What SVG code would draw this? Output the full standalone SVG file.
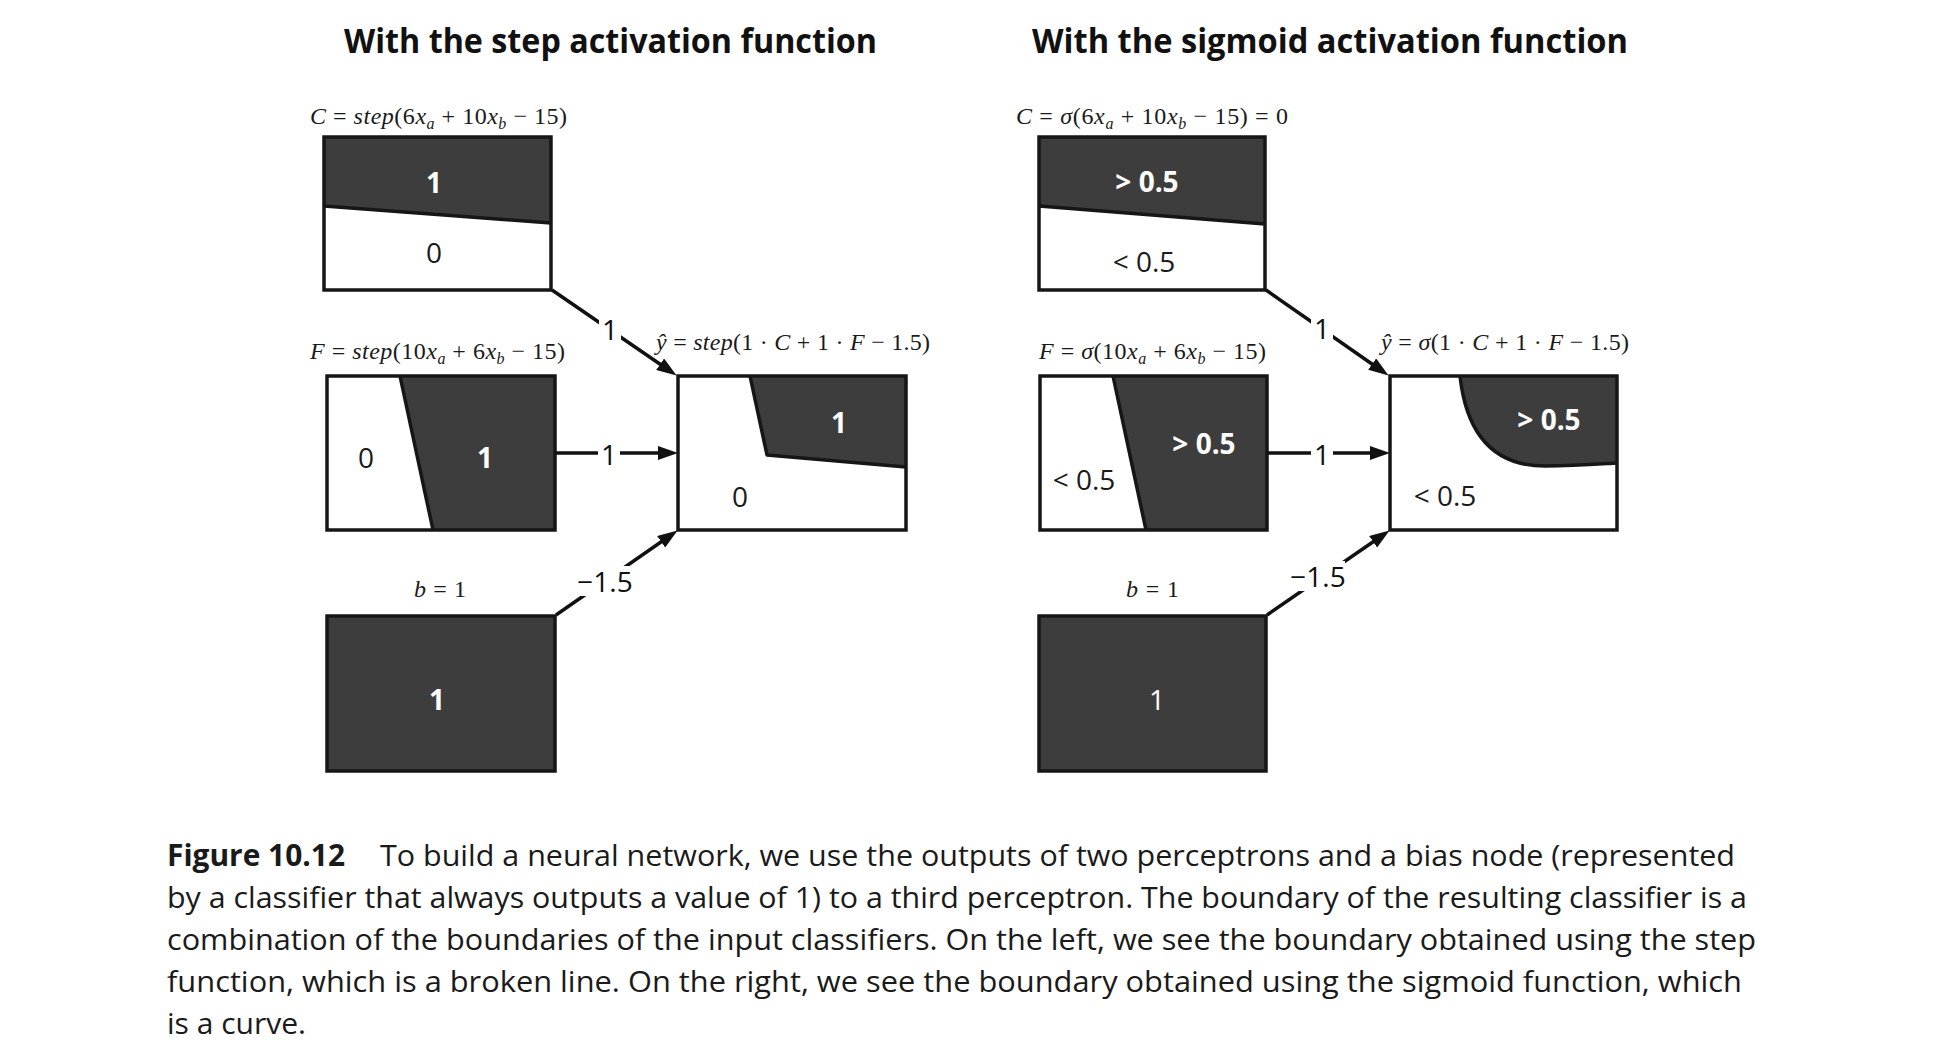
<svg xmlns="http://www.w3.org/2000/svg" width="1936" height="1054" viewBox="0 0 1936 1054">
<style>
.frame{fill:none;stroke:#161616;stroke-width:3.5}
.bg{fill:#fff}
.dark{fill:#3d3d3d}
.bnd{fill:none;stroke:#161616;stroke-width:3.5;stroke-linejoin:round}
.num{font-family:"Open Sans","Noto Sans",sans-serif;font-size:28px;text-anchor:middle}
.w{fill:#fff;font-weight:700}
.k{fill:#1a1a1a}
.eq{font-family:"Liberation Serif","Times New Roman",serif;font-size:24px;fill:#1a1a1a}
.it{font-style:italic}
.sub{font-size:16px;font-style:italic}
.title{font-family:"Open Sans","Noto Sans",sans-serif;font-size:34px;font-weight:700;fill:#111}
.cap{font-family:"Open Sans","Noto Sans",sans-serif;font-size:30px;fill:#1a1a1a}
.conn{stroke:#111;stroke-width:3.5;fill:none;marker-end:url(#ah)}
.clab{font-family:"Open Sans","Noto Sans",sans-serif;font-size:28px;fill:#111;text-anchor:middle}
</style>
<defs>
<marker id="ah" viewBox="0 0 20 14" refX="12" refY="7" markerWidth="20" markerHeight="14" markerUnits="userSpaceOnUse" orient="auto">
<path d="M0,0 L20,7 L0,14 Z" fill="#111"/>
</marker>
</defs>
<rect x="0" y="0" width="1936" height="1054" fill="#fff"/>

<text class="title" x="344" y="53" textLength="533" lengthAdjust="spacingAndGlyphs">With the step activation function</text>
<text class="title" x="1032" y="53" textLength="596" lengthAdjust="spacingAndGlyphs">With the sigmoid activation function</text>

<!-- LEFT: step -->
<g id="step-C">
<text class="eq" x="310" y="124" textLength="257" lengthAdjust="spacing"><tspan class="it">C</tspan> = <tspan class="it">step</tspan>(6<tspan class="it">x</tspan><tspan class="sub" dy="5">a</tspan><tspan dy="-5"> + 10</tspan><tspan class="it">x</tspan><tspan class="sub" dy="5">b</tspan><tspan dy="-5"> − 15)</tspan></text>
<rect class="bg" x="324" y="137" width="227" height="153"/>
<polygon class="dark" points="324,137 551,137 551,223 324,206"/>
<line class="bnd" x1="324" y1="206" x2="551" y2="223"/>
<rect class="frame" x="324" y="137" width="227" height="153"/>
<text class="num w" x="434" y="193">1</text>
<text class="num k" x="434" y="263">0</text>
</g>

<g id="step-F">
<text class="eq" x="310" y="359" textLength="255" lengthAdjust="spacing"><tspan class="it">F</tspan> = <tspan class="it">step</tspan>(10<tspan class="it">x</tspan><tspan class="sub" dy="5">a</tspan><tspan dy="-5"> + 6</tspan><tspan class="it">x</tspan><tspan class="sub" dy="5">b</tspan><tspan dy="-5"> − 15)</tspan></text>
<rect class="bg" x="327" y="376" width="228" height="154"/>
<polygon class="dark" points="400,376 555,376 555,530 433,530"/>
<line class="bnd" x1="400" y1="376" x2="433" y2="530"/>
<rect class="frame" x="327" y="376" width="228" height="154"/>
<text class="num k" x="366" y="468">0</text>
<text class="num w" x="485" y="468">1</text>
</g>

<g id="step-b">
<text class="eq" x="414" y="597" textLength="52" lengthAdjust="spacing"><tspan class="it">b</tspan> = 1</text>
<rect class="dark" x="327" y="616" width="228" height="155"/>
<rect class="frame" x="327" y="616" width="228" height="155"/>
<text class="num w" x="437" y="710">1</text>
</g>

<g id="step-yhat">
<text class="eq" x="656" y="350" textLength="274" lengthAdjust="spacing"><tspan class="it">ŷ</tspan> = <tspan class="it">step</tspan>(1 · <tspan class="it">C</tspan> + 1 · <tspan class="it">F</tspan> − 1.5)</text>
<rect class="bg" x="678" y="376" width="228" height="154"/>
<polygon class="dark" points="750,376 906,376 906,467 767,455"/>
<polyline class="bnd" points="750,376 767,455 906,467"/>
<rect class="frame" x="678" y="376" width="228" height="154"/>
<text class="num w" x="839" y="433">1</text>
<text class="num k" x="740" y="507">0</text>
</g>

<!-- RIGHT: sigmoid -->
<g id="sig-C">
<text class="eq" x="1016" y="124" textLength="272" lengthAdjust="spacing"><tspan class="it">C</tspan> = <tspan class="it">σ</tspan>(6<tspan class="it">x</tspan><tspan class="sub" dy="5">a</tspan><tspan dy="-5"> + 10</tspan><tspan class="it">x</tspan><tspan class="sub" dy="5">b</tspan><tspan dy="-5"> − 15) = 0</tspan></text>
<rect class="bg" x="1039" y="137" width="226" height="153"/>
<polygon class="dark" points="1039,137 1265,137 1265,224 1039,206"/>
<line class="bnd" x1="1039" y1="206" x2="1265" y2="224"/>
<rect class="frame" x="1039" y="137" width="226" height="153"/>
<text class="num w" x="1147" y="192">&gt; 0.5</text>
<text class="num k" x="1144" y="272">&lt; 0.5</text>
</g>

<g id="sig-F">
<text class="eq" x="1039" y="359" textLength="227" lengthAdjust="spacing"><tspan class="it">F</tspan> = <tspan class="it">σ</tspan>(10<tspan class="it">x</tspan><tspan class="sub" dy="5">a</tspan><tspan dy="-5"> + 6</tspan><tspan class="it">x</tspan><tspan class="sub" dy="5">b</tspan><tspan dy="-5"> − 15)</tspan></text>
<rect class="bg" x="1040" y="376" width="227" height="154"/>
<polygon class="dark" points="1113,376 1267,376 1267,530 1146,530"/>
<line class="bnd" x1="1113" y1="376" x2="1146" y2="530"/>
<rect class="frame" x="1040" y="376" width="227" height="154"/>
<text class="num w" x="1204" y="454">&gt; 0.5</text>
<text class="num k" x="1084" y="490">&lt; 0.5</text>
</g>

<g id="sig-b">
<text class="eq" x="1126" y="597" textLength="53" lengthAdjust="spacing"><tspan class="it">b</tspan> = 1</text>
<rect class="dark" x="1039" y="616" width="227" height="155"/>
<rect class="frame" x="1039" y="616" width="227" height="155"/>
<text class="num" x="1157" y="710" fill="#fff">1</text>
</g>

<g id="sig-yhat">
<text class="eq" x="1381" y="350" textLength="248" lengthAdjust="spacing"><tspan class="it">ŷ</tspan> = <tspan class="it">σ</tspan>(1 · <tspan class="it">C</tspan> + 1 · <tspan class="it">F</tspan> − 1.5)</text>
<rect class="bg" x="1390" y="376" width="227" height="154"/>
<path class="dark" d="M1460,376 C1466,430 1490,466 1545,466 C1575,466 1600,464 1617,463 L1617,376 Z"/>
<path class="bnd" d="M1460,376 C1466,430 1490,466 1545,466 C1575,466 1600,464 1617,463"/>
<rect class="frame" x="1390" y="376" width="227" height="154"/>
<text class="num w" x="1549" y="430">&gt; 0.5</text>
<text class="num k" x="1445" y="506">&lt; 0.5</text>
</g>

<g id="connectors">
<line class="conn" x1="552" y1="290" x2="670" y2="371"/>
<line class="conn" x1="556" y1="453" x2="670" y2="453"/>
<line class="conn" x1="556" y1="615" x2="671" y2="535"/>
<line class="conn" x1="1266" y1="290" x2="1382" y2="371"/>
<line class="conn" x1="1268" y1="453" x2="1382" y2="453"/>
<line class="conn" x1="1267" y1="615" x2="1383" y2="535"/>
<rect x="599" y="316" width="22" height="30" fill="#fff"/>
<text class="clab" x="610" y="340">1</text>
<rect x="598" y="439" width="22" height="30" fill="#fff"/>
<text class="clab" x="609" y="465">1</text>
<rect x="578" y="566" width="54" height="30" fill="#fff"/>
<text class="clab" x="605" y="592">−1.5</text>
<rect x="1311" y="315" width="22" height="30" fill="#fff"/>
<text class="clab" x="1322" y="339">1</text>
<rect x="1311" y="439" width="22" height="30" fill="#fff"/>
<text class="clab" x="1322" y="465">1</text>
<rect x="1291" y="561" width="54" height="30" fill="#fff"/>
<text class="clab" x="1318" y="587">−1.5</text>
</g>

<g id="caption">
<text class="cap" x="167" y="866" font-weight="700" textLength="178" lengthAdjust="spacingAndGlyphs">Figure 10.12</text>
<text class="cap" x="380" y="866" textLength="1355" lengthAdjust="spacingAndGlyphs">To build a neural network, we use the outputs of two perceptrons and a bias node (represented</text>
<text class="cap" x="167" y="908" textLength="1580" lengthAdjust="spacingAndGlyphs">by a classifier that always outputs a value of 1) to a third perceptron. The boundary of the resulting classifier is a</text>
<text class="cap" x="167" y="950" textLength="1589" lengthAdjust="spacingAndGlyphs">combination of the boundaries of the input classifiers. On the left, we see the boundary obtained using the step</text>
<text class="cap" x="167" y="992" textLength="1575" lengthAdjust="spacingAndGlyphs">function, which is a broken line. On the right, we see the boundary obtained using the sigmoid function, which</text>
<text class="cap" x="167" y="1034" textLength="139" lengthAdjust="spacingAndGlyphs">is a curve.</text>
</g>
</svg>
